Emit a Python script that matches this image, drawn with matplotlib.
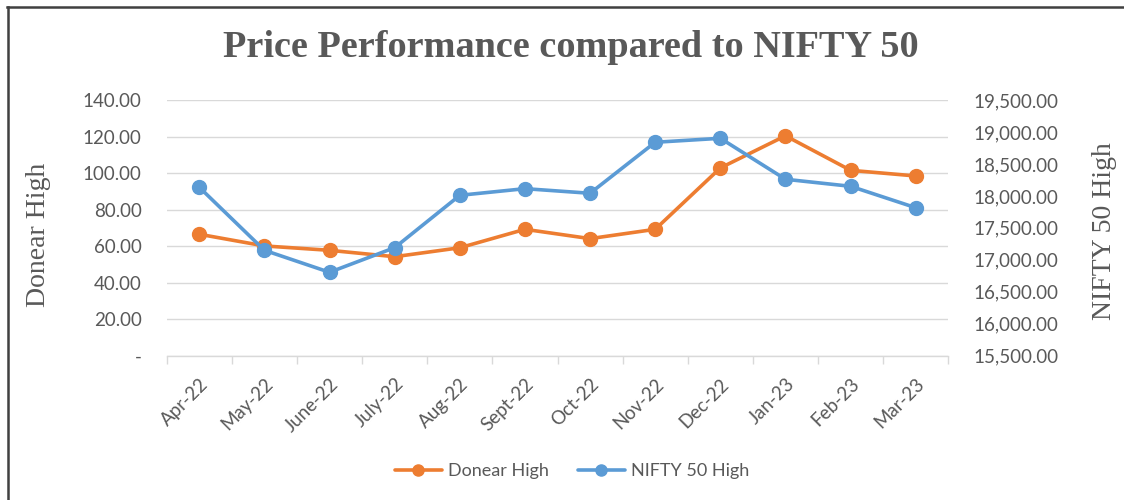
import matplotlib
matplotlib.use("Agg")
import matplotlib.pyplot as plt
from matplotlib.lines import Line2D
from matplotlib.ticker import FuncFormatter, FixedLocator
import matplotlib.transforms as mtransforms

months = ["Apr-22", "May-22", "June-22", "July-22", "Aug-22", "Sept-22",
          "Oct-22", "Nov-22", "Dec-22", "Jan-23", "Feb-23", "Mar-23"]
donear_high = [66.5, 60.1, 57.7, 54.2, 59.1, 69.2, 64.1, 69.2, 102.8, 120.4, 101.5, 98.4]
nifty_high = [18135, 17149, 16805, 17190, 18009, 18113, 18041, 18839, 18901, 18260, 18150, 17815]

left_ticks = [0, 20, 40, 60, 80, 100, 120, 140]
right_ticks = [15500, 16000, 16500, 17000, 17500, 18000, 18500, 19000, 19500]

orange = "#ED7D31"
blue = "#5B9BD5"
gray = "#595959"
grid = "#D9D9D9"
tickfont = "Lato"

fig = plt.figure(figsize=(11.24, 5.0), dpi=100)
ax = fig.add_axes([0.1483, 0.2886, 0.6954, 0.5114])
ax2 = ax.twinx()

x = list(range(len(months)))
ax.plot(x, donear_high, color=orange, lw=2.6, marker="o", ms=10, label="Donear High",
        solid_capstyle="round", zorder=3)
ax2.plot(x, nifty_high, color=blue, lw=2.6, marker="o", ms=10, label="NIFTY 50 High",
         solid_capstyle="round", zorder=3)

ax.set_xlim(-0.5, len(months) - 0.5)
ax.set_ylim(0, 140)
ax2.set_ylim(15500, 19500)
ax.set_yticks(left_ticks)
ax2.set_yticks(right_ticks)
ax.yaxis.set_major_formatter(FuncFormatter(lambda v, p: "-" if v == 0 else f"{v:,.2f}"))
ax2.yaxis.set_major_formatter(FuncFormatter(lambda v, p: f"{v:,.2f}"))

for a in (ax, ax2):
    for s in a.spines.values():
        s.set_visible(False)
ax.spines["bottom"].set_visible(True)
ax.spines["bottom"].set_color(grid)
ax.spines["bottom"].set_linewidth(1.0)

ax.grid(axis="y", color=grid, lw=1.0)
ax.set_axisbelow(True)

ax.tick_params(axis="y", length=0, pad=18, labelsize=13.5, labelcolor=gray)
ax2.tick_params(axis="y", length=0, pad=18, labelsize=13.5, labelcolor=gray)
for lab in ax.get_yticklabels() + ax2.get_yticklabels():
    lab.set_fontfamily(tickfont)

ax.set_xticks(x)
ax.set_xticklabels(months)
ax.xaxis.set_minor_locator(FixedLocator([i - 0.5 for i in range(len(months) + 1)]))
ax.tick_params(axis="x", which="major", length=0, pad=14, labelsize=13.5, labelcolor=gray)
ax.tick_params(axis="x", which="minor", length=6, color=grid, width=1.0)
offset = mtransforms.ScaledTranslation(0.0, 0.0, fig.dpi_scale_trans)
for lab in ax.get_xticklabels():
    lab.set_rotation(45)
    lab.set_ha("right")
    lab.set_va("top")
    lab.set_rotation_mode("anchor")
    lab.set_fontfamily(tickfont)
    lab.set_transform(lab.get_transform() + offset)

fig.text(0.034, 0.53, "Donear High", rotation=90, ha="center", va="center",
         fontfamily="Liberation Serif", fontsize=20, color=gray)
fig.text(0.983, 0.538, "NIFTY 50 High", rotation=90, ha="center", va="center",
         fontfamily="Liberation Serif", fontsize=20, color=gray)

fig.text(0.508, 0.905, "Price Performance compared to NIFTY 50", ha="center", va="center",
         fontfamily="Liberation Serif", fontweight="bold", fontsize=27.5, color=gray)

h1, l1 = ax.get_legend_handles_labels()
h2, l2 = ax2.get_legend_handles_labels()
fig.legend(h1 + h2, l1 + l2, loc="center", bbox_to_anchor=(0.509, 0.058), ncol=2,
           frameon=False, prop={"family": tickfont, "size": 13}, labelcolor=gray,
           handlelength=2.6, handletextpad=0.35, columnspacing=1.6, markerscale=0.8)

fig.add_artist(Line2D([0.006, 1.0], [0.986, 0.986], transform=fig.transFigure,
                      color="#404040", lw=1.8))
fig.add_artist(Line2D([0.0068, 0.0068], [0.0, 0.986], transform=fig.transFigure,
                      color="#404040", lw=1.8))

fig.savefig("out.png", dpi=100)
